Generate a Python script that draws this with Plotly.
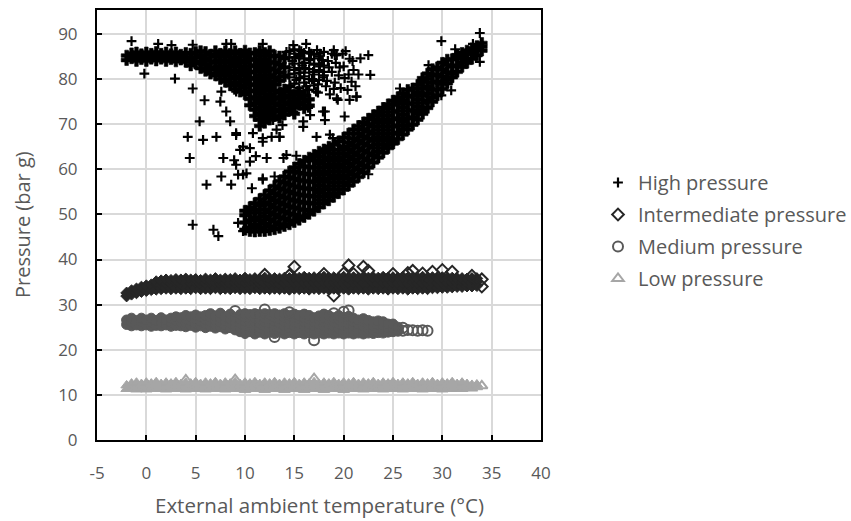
import plotly.graph_objects as go

# ---------------- High pressure (bar g) ----------------
# dense top band, low temperatures
hpA_t = [-2.0, -1.5, -1.0, -0.5, 0.0, 0.5, 1.0, 1.5, 2.0, 2.5, 3.0, 3.5, 4.0]
hpA_p = [[84.2, 85.2], [84.6, 85.7], [84.0, 85.0, 85.9], [84.4, 85.5], [84.0, 85.0, 85.9],
         [84.5, 85.6], [84.1, 85.1, 86.0], [84.5, 85.6], [84.0, 85.0, 85.9], [84.4, 85.5],
         [83.9, 84.9, 85.9], [84.3, 85.4], [83.8, 84.8, 85.8]]
# dense upper block, mid temperatures
hpB_t = [4.5, 5.0, 5.5, 6.0, 6.5, 7.0, 7.5, 8.0, 8.5, 9.0, 9.5, 10.0, 10.5, 11.0, 11.5,
         12.0, 12.5, 13.0, 13.5, 14.0]
hpB_p = [[83.0, 84.2, 85.6], [83.4, 84.8, 86.0], [82.4, 83.8, 85.2, 86.2], [81.8, 83.2, 84.6, 86.0],
         [81.2, 82.6, 84.0, 85.4], [80.8, 82.2, 83.6, 85.0, 86.2], [80.0, 81.4, 82.8, 84.2, 85.6],
         [79.4, 80.8, 82.2, 83.6, 85.0, 86.2], [78.6, 80.0, 81.4, 82.8, 84.2, 85.6],
         [77.8, 79.2, 80.6, 82.0, 83.4, 84.8, 86.2], [77.2, 78.6, 80.0, 81.4, 82.8, 84.2, 85.6],
         [76.6, 78.0, 79.4, 80.8, 82.2, 83.6, 85.0, 86.3], [77.3, 78.7, 80.1, 81.5, 82.9, 84.3, 85.7],
         [76.0, 77.4, 78.8, 80.2, 81.6, 83.0, 84.4, 85.8], [76.7, 78.1, 79.5, 80.9, 82.3, 83.7, 85.1, 86.3],
         [77.4, 78.8, 80.2, 81.6, 83.0, 84.4, 85.8], [78.1, 79.5, 80.9, 82.3, 83.7, 85.1, 86.2],
         [78.8, 80.4, 82.0, 83.6, 85.2], [79.6, 81.4, 83.2, 85.0], [80.6, 82.6, 84.6]]
# lower lobe of the upper block
hpC_t = [10.5, 11.0, 11.5, 12.0, 12.5, 13.0, 13.5, 14.0, 14.5, 15.0, 15.5, 16.0, 16.5]
hpC_p = [[75.6, 74.2], [74.6, 73.2, 71.8], [75.2, 73.8, 72.4, 71.0, 69.6], [75.9, 74.5, 73.1, 71.7, 70.3],
         [76.6, 75.2, 73.8, 72.4, 71.0], [77.4, 76.0, 74.6, 73.2, 71.8], [77.0, 75.6, 74.2, 72.8, 71.4],
         [77.7, 76.3, 74.9, 73.5, 72.1], [77.2, 75.8, 74.4, 73.0], [76.5, 75.1, 73.7, 72.3],
         [77.1, 75.7, 74.3], [76.3, 74.9, 73.5], [75.5, 74.1]]
# semi-dense patch right of the upper block
hpD_t = [14.5, 15.0, 15.5, 16.0, 16.5, 17.0, 17.5, 18.0]
hpD_p = [[78.2, 80.4, 82.6, 84.8], [79.0, 81.2, 83.4, 85.6], [78.0, 80.2, 82.4, 84.6, 86.4],
         [79.2, 81.4, 83.6, 85.8], [77.6, 80.0, 82.2, 84.4], [78.6, 81.0, 83.2, 85.4],
         [79.8, 82.0, 84.6], [80.8, 83.0]]
# rising branch
hpF_t = [10.0, 10.5, 11.0, 11.5, 12.0, 12.5, 13.0, 13.5, 14.0, 14.5, 15.0, 15.5, 16.0, 16.5,
         17.0, 17.5, 18.0, 18.5, 19.0, 19.5, 20.0, 20.5, 21.0, 21.5, 22.0, 22.5, 23.0, 23.5,
         24.0, 24.5, 25.0, 25.5, 26.0, 26.5, 27.0, 27.5, 28.0, 28.5, 29.0, 29.5, 30.0, 30.5,
         31.0, 31.5, 32.0, 32.5, 33.0, 33.5, 34.0]
hpF_p = [[46.6, 48.2, 49.8, 50.8], [46.3, 47.1, 48.7, 50.3, 51.6], [46.2, 47.8, 49.4, 51.0, 52.5],
         [46.3, 47.1, 48.7, 50.3, 51.9, 53.4], [46.3, 47.9, 49.5, 51.1, 52.7, 54.3],
         [46.5, 47.3, 48.9, 50.5, 52.1, 53.7, 55.3], [46.7, 48.3, 49.9, 51.5, 53.1, 54.7, 56.3],
         [47.0, 47.8, 49.4, 51.0, 52.6, 54.2, 55.8, 57.4], [47.4, 49.0, 50.6, 52.2, 53.8, 55.4, 57.0, 58.4],
         [47.8, 48.6, 50.2, 51.8, 53.4, 55.0, 56.6, 58.2, 59.5],
         [48.3, 49.9, 51.5, 53.1, 54.7, 56.3, 57.9, 59.5, 60.4],
         [48.8, 49.6, 51.2, 52.8, 54.4, 56.0, 57.6, 59.2, 61.2],
         [49.4, 51.0, 52.6, 54.2, 55.8, 57.4, 59.0, 60.6, 61.9],
         [50.1, 50.9, 52.5, 54.1, 55.7, 57.3, 58.9, 60.5, 62.6],
         [50.8, 52.4, 54.0, 55.6, 57.2, 58.8, 60.4, 62.0, 63.2],
         [51.6, 53.2, 54.8, 56.4, 58.0, 59.6, 61.2, 62.8, 63.9],
         [52.4, 54.0, 55.6, 57.2, 58.8, 60.4, 62.0, 63.6, 64.4],
         [53.1, 54.7, 56.3, 57.9, 59.5, 61.1, 62.7, 64.3, 65.0],
         [53.9, 55.5, 57.1, 58.7, 60.3, 61.9, 63.5, 65.5],
         [54.7, 56.3, 57.9, 59.5, 61.1, 62.7, 64.3, 66.2],
         [55.5, 57.1, 58.7, 60.3, 61.9, 63.5, 65.1, 67.0],
         [56.4, 58.0, 59.6, 61.2, 62.8, 64.4, 66.0, 67.9],
         [57.3, 58.9, 60.5, 62.1, 63.7, 65.3, 66.9, 68.8],
         [58.3, 59.9, 61.5, 63.1, 64.7, 66.3, 67.9, 69.6],
         [59.3, 60.9, 62.5, 64.1, 65.7, 67.3, 68.9, 70.4],
         [60.4, 62.0, 63.6, 65.2, 66.8, 68.4, 70.0, 71.2],
         [61.5, 63.1, 64.7, 66.3, 67.9, 69.5, 71.1, 72.0],
         [62.6, 63.9, 65.5, 67.1, 68.7, 70.3, 71.9, 72.8],
         [63.7, 64.7, 66.3, 67.9, 69.5, 71.1, 72.7, 73.6],
         [64.7, 65.5, 67.1, 68.7, 70.3, 71.9, 73.5, 74.4],
         [65.7, 66.3, 67.9, 69.5, 71.1, 72.7, 74.3, 75.2],
         [66.7, 68.1, 69.7, 71.3, 72.9, 74.5, 76.0],
         [67.7, 68.9, 70.5, 72.1, 73.7, 75.3, 76.8],
         [68.8, 69.7, 71.3, 72.9, 74.5, 76.1, 77.6],
         [69.9, 71.5, 73.1, 74.7, 76.3, 77.9],
         [71.0, 72.3, 73.9, 75.5, 77.1, 78.7],
         [72.3, 73.1, 74.7, 76.3, 77.9, 79.4, 80.2],
         [73.6, 75.2, 76.8, 78.4, 80.0, 81.2],
         [75.0, 76.0, 77.6, 79.2, 80.8, 82.2],
         [76.4, 77.8, 79.4, 81.0, 82.6],
         [77.8, 78.9, 80.5, 82.1, 83.6],
         [79.1, 79.9, 81.5, 83.1, 84.3],
         [80.4, 81.2, 82.8, 84.4],
         [81.6, 83.0, 84.5, 85.3],
         [82.7, 83.6, 85.0, 85.8],
         [83.6, 84.4, 85.6, 86.3],
         [84.5, 85.6, 86.8],
         [85.3, 86.4, 87.3],
         [86.3, 87.2, 88.0]]
# scattered readings
hpS_t = [14.5, 14.8, 15.0, 15.2, 15.5, 15.8, 16.0, 16.2, 16.5, 16.6, 16.9, 17.0, 17.2, 17.5,
         17.6, 17.9, 18.2, 18.4, 18.6, 18.8, 19.1, 19.3, 19.6, 19.9, 20.1, 20.4, 20.6, 20.8,
         21.0, 21.3, 22.5, 22.7, 14.9, 16.2, 17.6, 19.1, 20.6, 17.4,
         -1.5, 1.2, 2.55, 4.7, 8.1, 8.6, 11.8, -0.2, 2.9, 4.7, 5.9, 5.4, 4.2, 5.75, 7.1, 8.1,
         8.5, 4.4, 9.1, 9.8, 10.5, 11.8, 12.7, 13.5, 7.6, 7.5, 9.1, 14.5, 15.9, 17.9, 19.3,
         17.25, 18.6, 15.5, 19.4, 21.3, 18.1, 18.1, 20.1, 18.9,
         29.9, 31.3, 33.8, 33.1, 33.8, 30.9, 29.9, 28.9, 25.7, 28.6,
         6.1, 7.6, 8.6, 9.3, 10.15, 10.7, 11.8, 13.0, 4.7, 6.8, 7.3, 9.3, 9.8, 7.8, 8.9,
         10.5, 11.1, 13.9, 15.2, 22.5, 12.2, 14.2, 15.9, 13.5, 9.1, 10.8, 9.5, 11.8, 9.1,
         9.8, 11.8, 16.6, 14.9, 12.5, 12.85,
         14.2, 14.4, 14.6, 15.0, 15.1, 15.3, 15.6, 15.7, 16.0, 16.1, 16.3, 16.7, 16.8, 17.0,
         17.3, 17.4, 17.8, 18.0, 18.0, 18.3, 18.5, 18.8, 19.0, 19.2, 19.5, 19.7, 20.0, 20.2,
         20.5, 20.9, 21.2, 21.5, 21.7, 19.0, 16.4, 13.2, 13.8]
hpS_p = [86.2, 84.0, 82.0, 79.8, 85.0, 83.0, 80.6, 78.4, 86.0, 84.2, 81.6, 79.6, 77.2, 85.0,
         82.8, 80.4, 78.4, 84.0, 76.6, 81.6, 79.2, 85.3, 82.6, 85.6, 80.2, 77.6, 84.5, 79.4,
         82.0, 76.1, 85.3, 80.9, 87.5, 87.8, 85.6, 85.3, 75.4, 77.0,
         88.4, 87.8, 87.5, 87.6, 87.8, 87.8, 87.8, 81.2, 80.1, 77.9, 75.3, 70.6, 67.2, 66.5, 67.2, 72.8,
         70.6, 62.5, 67.6, 65.0, 64.7, 66.9, 67.2, 67.2, 77.2, 75.0, 77.2, 72.8, 70.6, 72.8, 75.7,
         67.2, 67.7, 85.3, 75.4, 76.1, 72.8, 70.9, 71.7, 66.9,
         88.4, 86.6, 90.2, 87.8, 83.8, 77.5, 76.4, 75.0, 77.9, 83.1,
         56.6, 58.4, 56.6, 58.8, 59.1, 55.8, 57.7, 58.4, 47.7, 46.6, 45.2, 48.1, 46.3, 62.5, 62.0,
         61.7, 62.9, 62.5, 63.0, 58.9, 62.5, 63.2, 69.4, 67.2, 68.0, 68.0, 64.3, 66.1, 61.0,
         58.8, 58.0, 72.0, 72.8, 72.8, 70.9,
         86.0, 81.0, 78.6, 86.6, 84.8, 77.4, 81.4, 86.2, 84.6, 82.4, 77.6, 85.6, 80.0, 83.4,
         86.4, 78.8, 84.2, 81.6, 86.0, 79.6, 82.6, 85.6, 77.8, 83.6, 80.8, 78.0, 82.8, 86.2,
         81.0, 84.0, 78.4, 81.0, 84.6, 86.4, 73.6, 68.8, 69.8]

# ---------------- Intermediate pressure ----------------
ip_t = [-2.0, -1.5, -1.0, -0.5, 0.0, 0.5, 1.0, 1.5, 2.0, 2.5, 3.0, 3.5, 4.0, 4.5, 5.0, 5.5,
        6.0, 6.5, 7.0, 7.5, 8.0, 8.5, 9.0, 9.5, 10.0, 10.5, 11.0, 11.5, 12.0, 12.5, 13.0, 13.5,
        14.0, 14.5, 15.0, 15.5, 16.0, 16.5, 17.0, 17.5, 18.0, 18.5, 19.0, 19.5, 20.0, 20.5,
        21.0, 21.5, 22.0, 22.5, 23.0, 23.5, 24.0, 24.5, 25.0, 25.5, 26.0, 26.5, 27.0, 27.5,
        28.0, 28.5, 29.0, 29.5, 30.0, 30.5, 31.0, 31.5, 32.0, 32.5, 33.0, 33.5]
ip_p = [[31.9, 32.6], [32.3, 33.1], [32.6, 33.5], [32.9, 33.9], [33.1, 34.2], [33.3, 34.4],
        [33.4, 34.6, 35.1], [33.5, 34.5, 35.3], [33.6, 34.6, 35.5], [33.5, 34.7, 35.4],
        [33.6, 34.8, 35.6], [33.5, 34.6, 35.5], [33.6, 34.8, 35.7], [33.5, 34.7, 35.5],
        [33.7, 34.9, 35.6], [33.5, 34.6, 35.4], [33.6, 34.8, 35.7], [33.5, 34.7, 35.5],
        [33.7, 34.9, 35.8], [33.5, 34.6, 35.5], [33.6, 34.8, 35.7], [33.5, 34.7, 35.6],
        [33.7, 34.9, 35.8], [33.5, 34.7, 35.5], [33.6, 34.8, 35.9], [33.5, 34.6, 35.6],
        [33.7, 34.9, 35.8], [33.5, 34.7, 35.6], [33.6, 34.8, 35.9], [33.5, 34.7, 35.6],
        [33.6, 34.9, 35.8], [33.5, 34.6, 35.7], [33.6, 34.8, 35.9], [33.4, 34.7, 35.8],
        [33.6, 34.9, 36.0], [33.5, 34.7, 35.9], [33.6, 34.8, 36.1], [33.4, 34.7, 35.9],
        [33.6, 34.9, 36.0], [33.5, 34.7, 35.9], [33.6, 34.8, 36.1], [33.4, 34.7, 35.9],
        [33.6, 34.9, 36.0], [33.5, 34.7, 35.9], [33.6, 34.8, 36.1], [33.4, 34.7, 35.9],
        [33.6, 34.9, 36.0], [33.5, 34.7, 35.9], [33.6, 34.8, 36.1], [33.4, 34.7, 35.9],
        [33.6, 34.9, 36.0], [33.5, 34.7, 35.9], [33.6, 34.8, 36.1], [33.4, 34.7, 35.9],
        [33.6, 34.9, 36.0], [33.5, 34.7, 35.9], [33.6, 34.8, 36.1], [33.4, 34.7, 35.9],
        [33.6, 34.9, 36.0], [33.5, 34.7, 35.9], [33.6, 34.8, 36.1], [33.5, 34.7, 35.9],
        [33.7, 34.9, 36.0], [33.7, 34.8, 35.9], [33.8, 34.9, 36.0], [33.8, 34.8, 35.8],
        [33.9, 34.9, 35.9], [34.0, 34.9, 35.8], [34.0, 35.0, 35.8], [34.1, 34.9, 35.7],
        [34.1, 35.0, 35.8], [34.2, 35.1, 35.8]]
# stray intermediate readings
ipO_t = [12.0, 14.5, 15.0, 18.0, 19.0, 20.0, 20.5, 21.0, 22.0, 22.5, 25.0, 26.5, 27.0, 28.0,
         29.0, 30.0, 31.0, 33.0, 34.0, 34.0]
ipO_p = [36.6, 36.5, 38.4, 36.8, 32.0, 36.9, 38.7, 36.8, 38.4, 37.5, 36.8, 37.0, 37.5, 36.9,
         37.3, 37.7, 37.3, 36.4, 34.0, 35.6]

# ---------------- Medium pressure ----------------
mp_t = [-2.0, -1.5, -1.0, -0.5, 0.0, 0.5, 1.0, 1.5, 2.0, 2.5, 3.0, 3.5, 4.0, 4.5, 5.0, 5.5,
        6.0, 6.5, 7.0, 7.5, 8.0, 8.5, 9.0, 9.5, 10.0, 10.5, 11.0, 11.5, 12.0, 12.5, 13.0, 13.5,
        14.0, 14.5, 15.0, 15.5, 16.0, 16.5, 17.0, 17.5, 18.0, 18.5, 19.0, 19.5, 20.0, 20.5,
        21.0, 21.5, 22.0, 22.5, 23.0, 23.5, 24.0, 24.5, 25.0, 25.5]
mp_p = [[25.6, 26.6], [25.3, 26.2, 27.0], [25.5, 26.5], [25.3, 26.2, 27.0], [25.5, 26.6],
        [25.2, 26.1, 27.0], [25.4, 26.5], [25.3, 26.2, 27.1], [25.5, 26.6], [25.2, 26.1, 27.0],
        [25.4, 26.5, 27.3], [25.3, 26.2, 27.1], [25.1, 26.0, 26.9, 27.6], [25.4, 26.4, 27.3],
        [25.0, 25.9, 26.8, 27.7], [25.3, 26.3, 27.3], [24.9, 25.8, 26.7, 27.6],
        [25.2, 26.2, 27.2, 28.0], [24.8, 25.7, 26.6, 27.5], [25.1, 26.1, 27.1, 28.1],
        [24.6, 25.5, 26.4, 27.3], [24.9, 25.9, 26.9, 27.9], [24.4, 25.3, 26.2, 27.1],
        [24.0, 24.9, 25.9, 26.9, 27.8], [23.6, 24.5, 25.4, 26.3, 27.2, 28.0],
        [24.0, 25.0, 26.0, 27.0, 27.8], [23.5, 24.4, 25.3, 26.2, 27.1, 28.0],
        [23.9, 24.9, 25.9, 26.9, 27.8], [23.5, 24.4, 25.3, 26.2, 27.1, 28.0],
        [23.9, 24.9, 25.9, 26.9, 27.8], [23.6, 24.5, 25.4, 26.3, 27.2, 28.0],
        [23.9, 24.9, 25.9, 26.9, 27.7], [23.5, 24.4, 25.3, 26.2, 27.1, 28.0],
        [23.8, 24.8, 25.8, 26.8, 27.6], [23.5, 24.4, 25.3, 26.2, 27.1, 27.9],
        [23.8, 24.8, 25.8, 26.8, 27.6], [23.5, 24.4, 25.3, 26.2, 27.1, 27.9],
        [23.8, 24.8, 25.8, 26.8, 27.6], [23.5, 24.4, 25.3, 26.2, 27.1],
        [23.7, 24.7, 25.7, 26.7, 27.5], [23.5, 24.4, 25.3, 26.2, 27.1, 27.9],
        [23.7, 24.7, 25.7, 26.7, 27.6], [23.5, 24.4, 25.3, 26.2, 27.1],
        [23.7, 24.7, 25.7, 26.7, 27.6], [23.5, 24.4, 25.3, 26.2, 27.1],
        [23.7, 24.7, 25.7, 26.7, 27.4], [23.5, 24.4, 25.3, 26.2, 27.0],
        [23.7, 24.7, 25.7, 26.6], [23.5, 24.4, 25.3, 26.2, 26.9], [23.7, 24.7, 25.6, 26.5],
        [23.6, 24.5, 25.4, 26.2], [23.8, 24.7, 25.6, 26.4], [23.7, 24.6, 25.5, 26.2],
        [23.9, 24.8, 25.7], [24.0, 24.9, 25.7], [24.1, 25.0]]
# stray medium readings
mpO_t = [9.0, 12.0, 13.0, 14.5, 17.0, 19.0, 20.0, 20.5, 26.0, 26.0, 26.5, 27.0, 27.5, 28.0, 28.5]
mpO_p = [28.6, 28.9, 22.8, 28.3, 22.1, 28.1, 28.4, 28.7, 24.2, 24.9, 24.4, 24.3, 24.2, 24.3, 24.2]

# ---------------- Low pressure ----------------
lp_t = [-2.0, -1.5, -1.0, -0.5, 0.0, 0.5, 1.0, 1.5, 2.0, 2.5, 3.0, 3.5, 4.0, 4.5, 5.0, 5.5,
        6.0, 6.5, 7.0, 7.5, 8.0, 8.5, 9.0, 9.5, 10.0, 10.5, 11.0, 11.5, 12.0, 12.5, 13.0, 13.5,
        14.0, 14.5, 15.0, 15.5, 16.0, 16.5, 17.0, 17.5, 18.0, 18.5, 19.0, 19.5, 20.0, 20.5,
        21.0, 21.5, 22.0, 22.5, 23.0, 23.5, 24.0, 24.5, 25.0, 25.5, 26.0, 26.5, 27.0, 27.5,
        28.0, 28.5, 29.0, 29.5, 30.0, 30.5, 31.0, 31.5, 32.0, 32.5, 33.0, 33.5]
lp_p = [[11.3, 12.1], [11.6, 12.5], [11.2, 12.0, 12.7], [11.5, 12.4], [11.2, 12.0, 12.7],
        [11.6, 12.5], [11.3, 12.1, 12.8], [11.5, 12.4], [11.2, 12.0, 12.7], [11.6, 12.5],
        [11.3, 12.1, 12.8], [11.5, 12.4], [11.2, 12.0, 12.7], [11.6, 12.5],
        [11.3, 12.1, 12.8], [11.5, 12.4], [11.2, 12.0, 12.7], [11.6, 12.5], [11.3, 12.1, 12.8],
        [11.5, 12.4], [11.2, 12.0, 12.7], [11.6, 12.5], [11.3, 12.1, 12.8], [11.5, 12.4],
        [11.1, 12.0, 12.7], [11.6, 12.5], [11.3, 12.1, 12.8], [11.5, 12.4], [11.1, 12.0, 12.7],
        [11.6, 12.5], [11.3, 12.1, 12.8], [11.5, 12.4], [11.1, 12.0, 12.7], [11.6, 12.5],
        [11.3, 12.1, 12.8], [11.5, 12.4], [11.1, 12.0, 12.7], [11.6, 12.5],
        [11.3, 12.1, 12.8], [11.5, 12.4], [11.1, 12.0, 12.7], [11.6, 12.5],
        [11.3, 12.1, 12.8], [11.5, 12.4], [11.1, 12.0, 12.7], [11.6, 12.5], [11.3, 12.1, 12.8],
        [11.5, 12.4], [11.2, 12.0, 12.7], [11.6, 12.5], [11.3, 12.1, 12.8], [11.5, 12.4],
        [11.2, 12.0, 12.7], [11.6, 12.5], [11.3, 12.1, 12.8], [11.5, 12.4], [11.2, 12.0, 12.7],
        [11.6, 12.5], [11.3, 12.1, 12.8], [11.5, 12.4], [11.2, 12.0, 12.7], [11.6, 12.5],
        [11.3, 12.1, 12.8], [11.5, 12.4], [11.2, 12.0, 12.7], [11.6, 12.5], [11.3, 12.1, 12.8],
        [11.5, 12.4], [11.3, 12.1, 12.7], [11.6, 12.4], [11.4, 12.2], [11.7, 12.3]]
# stray low readings
lpO_t = [4.0, 9.0, 17.0, 34.0]
lpO_p = [13.3, 13.4, 13.6, 12.0]

x_ticks = [-5, 0, 5, 10, 15, 20, 25, 30, 35, 40]
y_ticks = [0, 10, 20, 30, 40, 50, 60, 70, 80, 90]


def columns(ts, ps):
    xs, ys = [], []
    for t, col in zip(ts, ps):
        xs.extend([t] * len(col))
        ys.extend(col)
    return xs, ys


hx, hy = [], []
for ts, ps in [(hpA_t, hpA_p), (hpB_t, hpB_p), (hpC_t, hpC_p), (hpF_t, hpF_p)]:
    a, b = columns(ts, ps)
    hx += a
    hy += b
dx, dy = columns(hpD_t, hpD_p)

ix, iy = columns(ip_t, ip_p)
mx, my = columns(mp_t, mp_p)
lx, ly = columns(lp_t, lp_p)

FONT = "Open Sans"
TXT = "#595959"
C_HI, C_IN, C_MD, C_LO = "black", "#262626", "#595959", "#a6a6a6"

fig = go.Figure()
# High pressure: dense cores + individual readings
fig.add_trace(go.Scatter(
    x=hx, y=hy, mode="markers", name="High pressure", legendgroup="a", showlegend=False,
    marker=dict(symbol="cross", size=9, color=C_HI, line=dict(color=C_HI, width=0.6))))
fig.add_trace(go.Scatter(
    x=dx + hpS_t, y=dy + hpS_p, mode="markers", name="High pressure", legendgroup="a",
    marker=dict(symbol="cross-thin", size=7, color=C_HI, line=dict(color=C_HI, width=2.2))))
# Intermediate
fig.add_trace(go.Scatter(
    x=ix, y=iy, mode="markers", name="Intermediate pressure", legendgroup="b", showlegend=False,
    marker=dict(symbol="diamond", size=9, color=C_IN, line=dict(color=C_IN, width=1))))
fig.add_trace(go.Scatter(
    x=ipO_t, y=ipO_p, mode="markers", name="Intermediate pressure", legendgroup="b",
    marker=dict(symbol="diamond-open", size=9, color=C_IN, line=dict(color=C_IN, width=2))))
# Medium
fig.add_trace(go.Scatter(
    x=mx, y=my, mode="markers", name="Medium pressure", legendgroup="c", showlegend=False,
    marker=dict(symbol="circle", size=10, color=C_MD, line=dict(color=C_MD, width=1))))
fig.add_trace(go.Scatter(
    x=mpO_t, y=mpO_p, mode="markers", name="Medium pressure", legendgroup="c",
    marker=dict(symbol="circle-open", size=10, color=C_MD, line=dict(color=C_MD, width=2))))
# Low
fig.add_trace(go.Scatter(
    x=lx, y=ly, mode="markers", name="Low pressure", legendgroup="d", showlegend=False,
    marker=dict(symbol="triangle-up", size=10, color=C_LO, line=dict(color=C_LO, width=1))))
fig.add_trace(go.Scatter(
    x=lpO_t, y=lpO_p, mode="markers", name="Low pressure", legendgroup="d",
    marker=dict(symbol="triangle-up-open", size=10, color=C_LO, line=dict(color=C_LO, width=2))))

axis_common = dict(
    showline=True, linecolor="black", linewidth=2, mirror=True,
    ticks="inside", ticklen=5, tickwidth=2, tickcolor="black",
    showgrid=True, gridcolor="#d9d9d9", gridwidth=1.5, zeroline=False,
    tickfont=dict(family=FONT, size=17, color=TXT),
)

fig.update_xaxes(range=[-5, 40], tickvals=x_ticks, ticktext=[str(v) for v in x_ticks],
                 ticklabelstandoff=17, **axis_common)
fig.update_yaxes(range=[0, 95.3], tickvals=y_ticks, ticklabelstandoff=14, **axis_common)

fig.add_annotation(text="External ambient temperature (°C)", xref="paper", yref="paper",
                   x=0.5, y=(440 - 505) / 432, xanchor="center", yanchor="middle", showarrow=False,
                   font=dict(family=FONT, size=20.5, color=TXT))
fig.add_annotation(text="Pressure (bar g)", xref="paper", yref="paper",
                   x=(22 - 97) / 444, y=0.5, xanchor="center", yanchor="middle", textangle=-90,
                   showarrow=False, font=dict(family=FONT, size=20, color=TXT))

fig.update_layout(
    width=851, height=521,
    margin=dict(l=97, r=310, t=8, b=81),
    paper_bgcolor="white", plot_bgcolor="white",
    showlegend=True,
    legend=dict(xref="container", yref="container", x=598 / 851, y=1 - 163 / 521,
                xanchor="left", yanchor="top", traceorder="grouped", tracegroupgap=3,
                font=dict(family=FONT, size=20, color=TXT), bgcolor="rgba(0,0,0,0)",
                itemsizing="trace"),
)

fig.write_html("out.html")
